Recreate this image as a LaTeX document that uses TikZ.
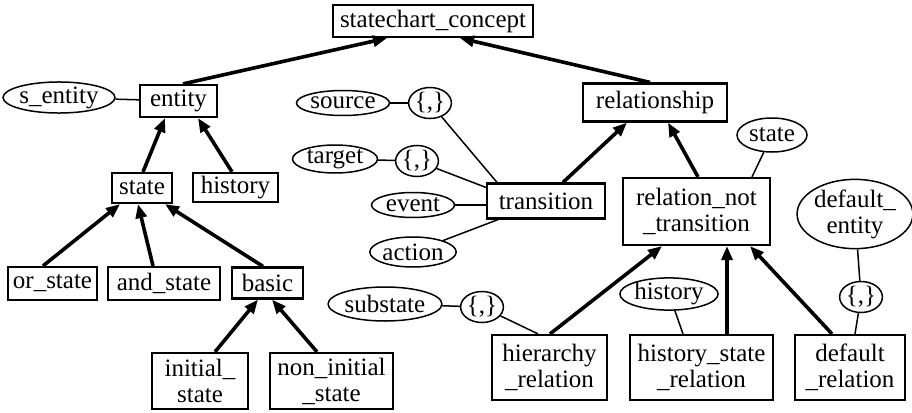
\documentclass[tikz,border=0pt]{standalone}
\usepackage{fontspec}
\setmainfont{Liberation Serif}
\usetikzlibrary{arrows.meta,shapes.geometric}

\begin{document}
\begin{tikzpicture}[x=1pt, y=-1pt,
  every node/.style={font=\fontsize{25}{26}\selectfont, inner sep=0pt, align=center},
  cls/.style={draw, line width=2.2pt, rectangle},
  attr/.style={draw, line width=1.5pt, ellipse},
  setn/.style={draw, line width=1.5pt, ellipse, minimum width=38pt, minimum height=31pt},
  isa/.style={line width=3.6pt, -{Triangle[length=14pt,width=11pt]}},
  rel/.style={line width=1.5pt}]
  \useasboundingbox (0,0) rectangle (912,412);

  % class boxes
  \node[cls, minimum width=200pt, minimum height=32pt] (concept) at (433,21) {statechart\_concept};
  \node[cls, minimum width=77pt, minimum height=32pt] (entity) at (178.5,101) {entity};
  \node[cls, minimum width=60pt, minimum height=30pt] (state) at (142,188) {state};
  \node[cls, minimum width=85pt, minimum height=29pt] (history) at (235.5,187.5) {history};
  \node[cls, minimum width=89pt, minimum height=33pt] (orstate) at (52.5,283.5) {or\_state};
  \node[cls, minimum width=112pt, minimum height=33pt] (andstate) at (164,283.5) {and\_state};
  \node[cls, minimum width=71pt, minimum height=31pt] (basic) at (267.5,283) {basic};
  \node[cls, minimum width=96pt, minimum height=56pt] (initial) at (200,381) {initial\_\\state};
  \node[cls, minimum width=123pt, minimum height=56pt] (noninit) at (331.5,381) {non\_initial\\\_state};
  \node[cls, minimum width=144pt, minimum height=38pt] (relship) at (655,102.5) {relationship};
  \node[cls, minimum width=118pt, minimum height=35pt] (trans) at (546,201) {transition};
  \node[cls, minimum width=147pt, minimum height=67pt] (relnot) at (696.5,211.5) {relation\_not\\\_transition};
  \node[cls, minimum width=115pt, minimum height=65pt] (hier) at (549.5,367.5) {hierarchy\\\_relation};
  \node[cls, minimum width=143pt, minimum height=65pt] (histrel) at (701.5,367.5) {history\_state\\\_relation};
  \node[cls, minimum width=110pt, minimum height=65pt] (defrel) at (850,367.5) {default\\\_relation};

  % attributes
  \node[attr, minimum width=102pt, minimum height=29pt] (sentity) at (59,97.5) {s\_entity};
  \node[attr, minimum width=93pt, minimum height=25pt] (source) at (343,103) {source};
  \node[setn] (srcset) at (430,103) {\{,\}};
  \node[attr, minimum width=85pt, minimum height=28pt] (target) at (335,159) {target};
  \node[setn] (tgtset) at (417,161) {\{,\}};
  \node[attr, minimum width=83pt, minimum height=25pt] (event) at (413,205) {event};
  \node[attr, minimum width=81pt, minimum height=30pt] (action) at (413,252) {action};
  \node[attr, minimum width=104pt, minimum height=34pt] (substate) at (385,304) {substate};
  \node[setn] (subset) at (482,307) {\{,\}};
  \node[attr, minimum width=70pt, minimum height=34pt] (stateattr) at (772,135) {state};
  \node[attr, minimum width=98pt, minimum height=28pt] (histattr) at (669,294) {history};
  \node[attr, minimum width=106pt, minimum height=68pt] (defent) at (855,214) {default\_\\entity};
  \node[setn] (defset) at (861,297) {\{,\}};

  % is-a arrows
  \draw[isa] ([xshift=4.5pt]entity.north) -- ([xshift=-46pt]concept.south);
  \draw[isa] ([xshift=-5pt]relship.north) -- ([xshift=27pt]concept.south);
  \draw[isa] ([xshift=1pt]state.north) -- ([xshift=-13.5pt]entity.south);
  \draw[isa] ([xshift=-3.5pt]history.north) -- ([xshift=19.5pt]entity.south);
  \draw[isa] ([xshift=-9.5pt]orstate.north) -- ([xshift=-22pt]state.south);
  \draw[isa] ([xshift=-11pt]andstate.north) -- ([xshift=-4pt]state.south);
  \draw[isa] ([xshift=-4.5pt]basic.north) -- ([xshift=23pt]state.south);
  \draw[isa] ([xshift=15pt]initial.north) -- ([xshift=-9.5pt]basic.south);
  \draw[isa] ([xshift=-14.5pt]noninit.north) -- ([xshift=4.5pt]basic.south);
  \draw[isa] ([xshift=17pt]trans.north) -- ([xshift=-28pt]relship.south);
  \draw[isa] ([xshift=1.5pt]relnot.north) -- ([xshift=13pt]relship.south);
  \draw[isa] ([xshift=0.5pt]hier.north) -- ([xshift=-34.5pt]relnot.south);
  \draw[isa] ([xshift=25.5pt]histrel.north) -- ([xshift=30.5pt]relnot.south);
  \draw[isa] ([xshift=-18pt]defrel.north) -- ([xshift=53.5pt]relnot.south);

  % attribute links
  \draw[rel] (sentity) -- (entity);
  \draw[rel] (source) -- (srcset);
  \draw[rel] (srcset) -- ([xshift=-49pt]trans.north);
  \draw[rel] (target) -- (tgtset);
  \draw[rel] (tgtset) -- ([yshift=-5pt]trans.north west);
  \draw[rel] (event.east) -- (event.east -| trans.west);
  \draw[rel] (action) -- ([xshift=-48pt]trans.south);
  \draw[rel] (substate) -- (subset);
  \draw[rel] (subset) -- ([xshift=-11.5pt]hier.north);
  \draw[rel] (stateattr) -- ([xshift=55.5pt]relnot.north);
  \draw[rel] (histattr) -- ([xshift=-18.5pt]histrel.north);
  \draw[rel] (defent) -- (defset);
  \draw[rel] (defset) -- ([xshift=5pt]defrel.north);
\end{tikzpicture}
\end{document}
